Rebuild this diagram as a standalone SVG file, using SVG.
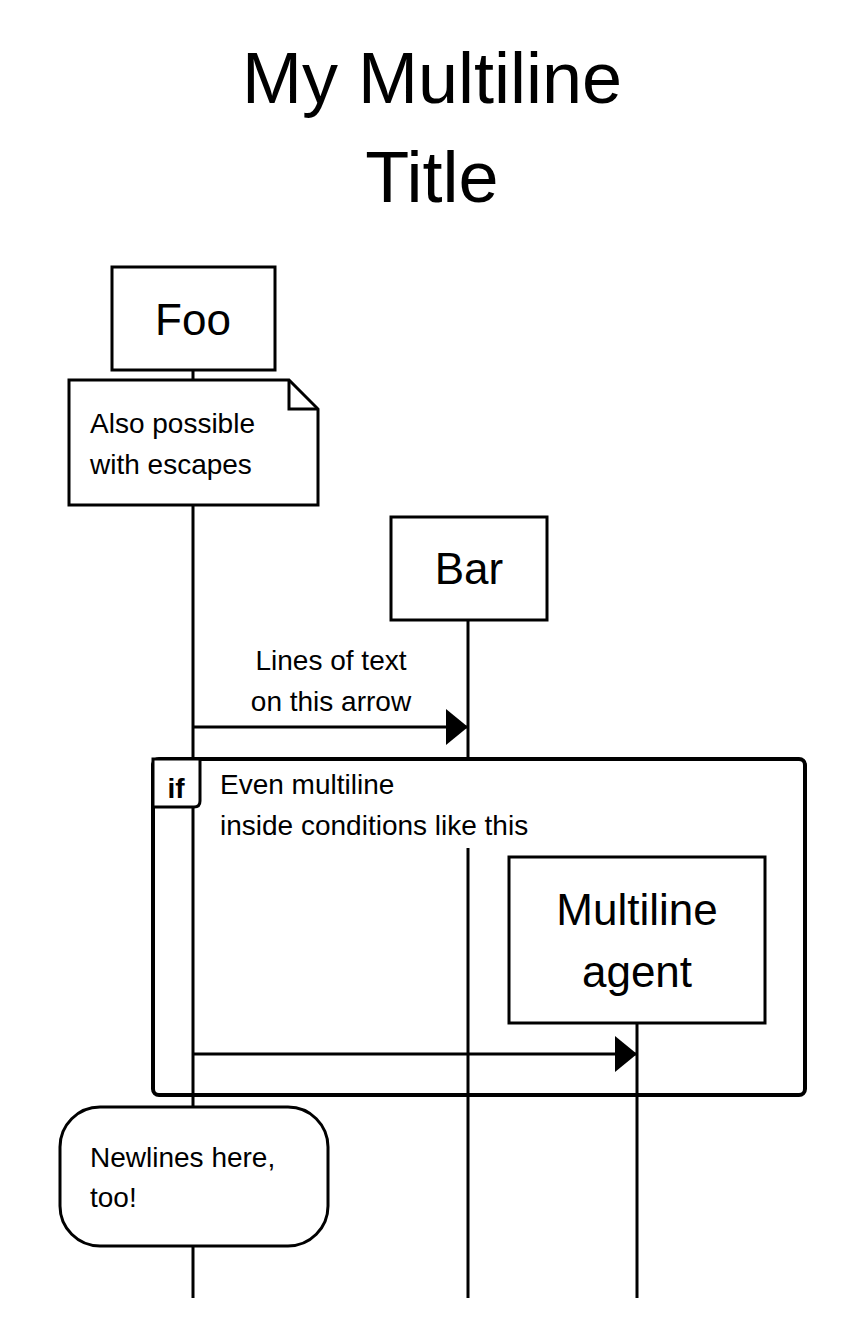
<svg xmlns="http://www.w3.org/2000/svg" width="865" height="1318" viewBox="0 0 865 1318">
<style>
text{font-family:"Liberation Sans",Arial,sans-serif;fill:#000}
.box{fill:#fff;stroke:#000;stroke-width:3}
.life{stroke:#000;stroke-width:3;fill:none}
.t{font-size:28px}
.a{font-size:44px;text-anchor:middle}
</style>
<defs><marker id="ah" markerWidth="22" markerHeight="36" refX="22" refY="18" orient="auto" markerUnits="userSpaceOnUse"><path d="M0,0 L22,18 L0,36 Z" fill="#000"/></marker></defs>
<rect width="865" height="1318" fill="#fff"/>
<g id="title"><text x="432" y="103" font-size="72" text-anchor="middle">My Multiline</text><text x="432" y="202" font-size="72" text-anchor="middle">Title</text></g>
<g id="lifelines">
<line class="life" x1="193" y1="370" x2="193" y2="1298"/>
<line class="life" x1="468" y1="620" x2="468" y2="758"/>
<line class="life" x1="468" y1="848" x2="468" y2="1298"/>
<line class="life" x1="637" y1="1023" x2="637" y2="1298"/>
</g>
<g id="foo"><rect class="box" x="112" y="267" width="163" height="103"/><text class="a" x="193" y="335">Foo</text></g>
<g id="note1"><path class="box" d="M69,380 H289 L318,409 V505 H69 Z"/><path class="life" d="M289,380 V409 H318"/><text class="t" x="90" y="433">Also possible</text><text class="t" x="90" y="474">with escapes</text></g>
<g id="bar"><rect class="box" x="391" y="517" width="156" height="103"/><text class="a" x="469" y="584">Bar</text></g>
<g id="connectors">
<line class="life" x1="193" y1="727" x2="468" y2="727" marker-end="url(#ah)"/>
<text class="t" x="331" y="670" text-anchor="middle">Lines of text</text><text class="t" x="331" y="711" text-anchor="middle">on this arrow</text>
<line class="life" x1="193" y1="1054" x2="637" y2="1054" marker-end="url(#ah)"/>
</g>
<g id="frame"><rect x="153" y="759" width="652" height="336" rx="6" fill="none" stroke="#000" stroke-width="4"/>
<path d="M153,759 H200 V801 Q200,807 194,807 H153 Z" fill="#fff" stroke="#000" stroke-width="3"/>
<text x="176" y="798" font-size="28" font-weight="bold" text-anchor="middle">if</text>
<text class="t" x="220" y="794">Even multiline</text><text class="t" x="220" y="835">inside conditions like this</text></g>
<g id="agent"><rect class="box" x="509" y="857" width="256" height="166"/><text class="a" x="637" y="925">Multiline</text><text class="a" x="637" y="987">agent</text></g>
<g id="note2"><rect class="box" x="60" y="1107" width="268" height="139" rx="40"/><text class="t" x="90" y="1167">Newlines here,</text><text class="t" x="90" y="1207">too!</text></g>
</svg>
